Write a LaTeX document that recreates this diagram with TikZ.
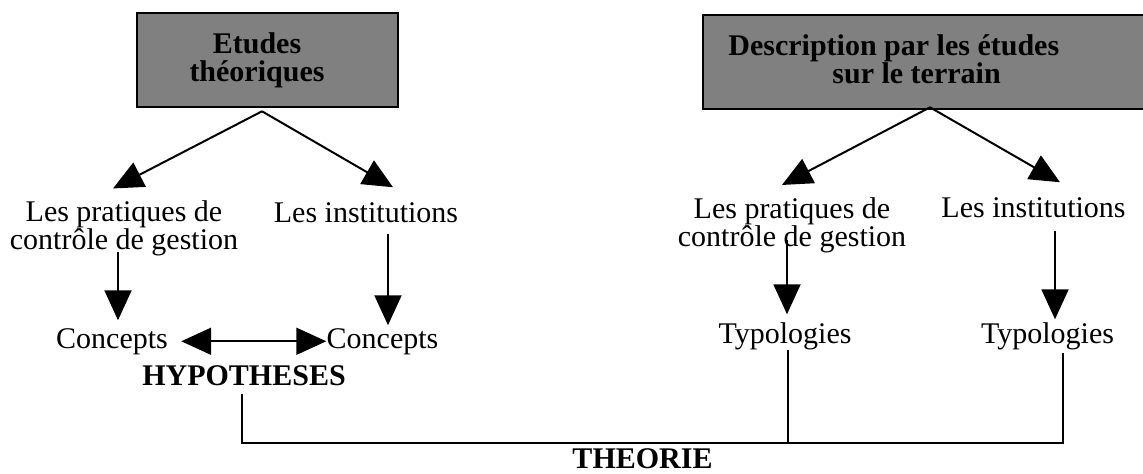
\documentclass[tikz,border=0pt]{standalone}
\usepackage{fontspec}
\setmainfont{Liberation Serif}
\usepackage{tikz}
\usetikzlibrary{arrows.meta}
\definecolor{shade}{RGB}{128,128,128}
\definecolor{ink}{RGB}{0,0,0}

\begin{document}
\begin{tikzpicture}[x=0.5pt, y=-0.5pt,
		panel/.style={draw=ink, line width=1.3pt, fill=shade, inner sep=0pt},
		caption/.style={inner sep=0pt, font=\fontsize{15}{14}\selectfont},
		head/.style={inner sep=0pt, font=\fontsize{15}{14}\selectfont\bfseries},
		arr/.style={-{Triangle[length=15pt, width=13.5pt]}, line width=1pt, ink},
		arrboth/.style={{Triangle[length=15pt, width=13.5pt]}-{Triangle[length=15pt, width=13.5pt]}, line width=1pt, ink},
		link/.style={line width=1pt, ink}]
		\useasboundingbox (0,0) rectangle (1143,473);
		% the two grey boxes
		\node[panel, minimum width=130.5pt, minimum height=47pt] (etudesBox) at (267.5,60) {};
		\node[head, align=center] (etudesTxt) at (257,60) {Etudes\\théoriques};
		\node[panel, minimum width=222pt, minimum height=47pt] (descBox) at (925,62) {};
		\node[head, align=left, anchor=west] (descTxt) at (728,59)
			{Description par les études\\\hspace*{52pt}sur le terrain};
		% second row
		\node[caption, align=center] (pratA) at (124,228) {Les pratiques de\\contrôle de gestion};
		\node[caption, anchor=base] (instA) at (366,222) {Les institutions};
		\node[caption, align=center] (pratB) at (792,225.5) {Les pratiques de\\contrôle de gestion};
		\node[caption, anchor=base] (instB) at (1033.5,217) {Les institutions};
		% third row
		\node[caption, anchor=base] (conA) at (112,348) {Concepts};
		\node[caption, anchor=base] (conB) at (382.5,348) {Concepts};
		\node[caption, anchor=base] (typA) at (785,343) {Typologies};
		\node[caption, anchor=base] (typB) at (1047.5,343) {Typologies};
		\node[head, anchor=base] (hyp) at (244,385) {HYPOTHESES};
		\node[head, anchor=base] (theo) at (642.5,468) {THEORIE};
		\coordinate (join) at (788,443);
		% arrows
		\draw[arr] ([shift={(-5.5,3)}]etudesBox.south) -- ([shift={(-11,-11.5)}]pratA.north);
		\draw[arr] ([shift={(-5.5,3)}]etudesBox.south) -- ([shift={(27,-14.5)}]instA.north);
		\draw[arr] ([shift={(5,-3)}]descBox.south) -- ([shift={(-10,-12.5)}]pratB.north);
		\draw[arr] ([shift={(5,-3)}]descBox.south) -- ([shift={(26.5,-14.5)}]instB.north);
		\draw[arr] ([shift={(-6,-4)}]pratA.south) -- ([shift={(6,-7.5)}]conA.north);
		\draw[arr] ([shift={(22,11)}]instA.south) -- ([shift={(5.5,-2.5)}]conB.north);
		\draw[arr] ([shift={(-5,-13.5)}]pratB.south) -- ([shift={(2,-7.5)}]typA.north);
		\draw[arr] ([shift={(21.5,13)}]instB.south) -- ([shift={(7.5,-2.5)}]typB.north);
		\draw[arrboth] ([xshift=6.5pt]conA.east) -- (conB.west);
		% lines to the theory
		\draw[link] ([shift={(-2,8)}]hyp.south) |- (join) -| ([shift={(15.5,3.5)}]typB.south);
		\draw[link] ([shift={(3,0)}]typA.south) -- (join);
	\end{tikzpicture}
\end{document}
